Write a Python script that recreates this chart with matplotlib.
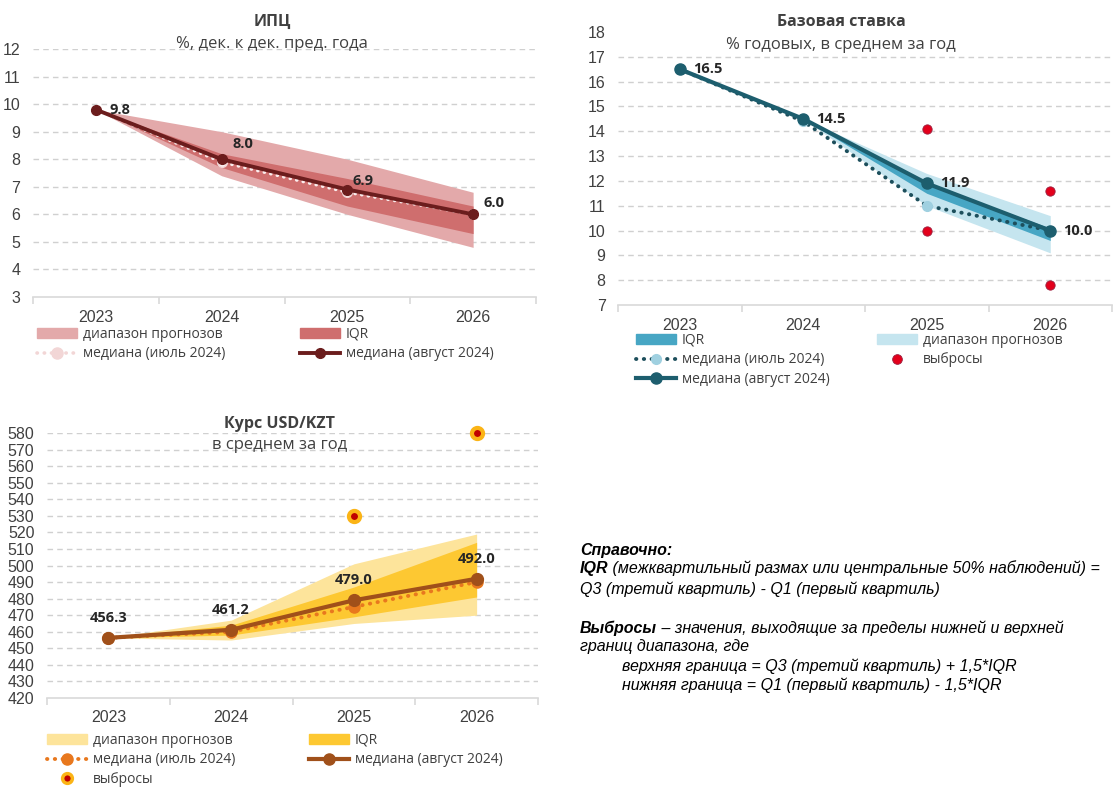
import matplotlib
matplotlib.use("Agg")
import matplotlib.pyplot as plt
from matplotlib.lines import Line2D
from matplotlib.patches import Patch

W, H = 1120, 799

years = ["2023", "2024", "2025", "2026"]

# ИПЦ
cpi_med_aug = [9.8, 8.0, 6.9, 6.0]
cpi_med_jul = [9.8, 7.9, 6.8, 6.0]
cpi_rng_lo = [9.8, 7.4, 6.0, 4.8]
cpi_rng_hi = [9.8, 9.0, 8.0, 6.8]
cpi_iqr_lo = [9.8, 7.7, 6.3, 5.3]
cpi_iqr_hi = [9.8, 8.2, 7.3, 6.3]

# Базовая ставка
rate_med_aug = [16.5, 14.5, 11.9, 10.0]
rate_med_jul = [16.5, 14.4, 11.0, 10.0]
rate_rng_lo = [16.5, 14.5, 11.0, 9.1]
rate_rng_hi = [16.5, 14.5, 12.3, 10.6]
rate_iqr_lo = [16.5, 14.5, 11.5, 9.6]
rate_iqr_hi = [16.5, 14.5, 11.9, 10.1]
rate_out_year = ["2025", "2025", "2026", "2026"]
rate_out_val = [14.1, 10.0, 11.6, 7.8]

# Курс USD/KZT
usd_med_aug = [456.3, 461.2, 479.0, 492.0]
usd_med_jul = [456.3, 460.0, 475.0, 490.0]
usd_rng_lo = [456.3, 455.0, 465.0, 470.0]
usd_rng_hi = [456.3, 467.0, 501.0, 519.0]
usd_iqr_lo = [456.3, 458.0, 469.0, 481.0]
usd_iqr_hi = [456.3, 464.0, 487.0, 514.0]
usd_out_year = ["2025", "2026"]
usd_out_val = [530.0, 580.0]

TICK_FONT = ["Liberation Sans", "DejaVu Sans"]
HUM_FONT = ["Open Sans", "DejaVu Sans"]
GREY = "#404040"
DOTS = (0, (0.1, 1.9))


def px_axes(fig, left, right, top, bottom):
    return fig.add_axes([left / W, 1 - bottom / H, (right - left) / W, (bottom - top) / H])


def style_axes(ax, ylim, yticks, grid_ticks):
    x = list(range(len(years)))
    ax.set_xlim(-0.5, len(years) - 0.5)
    ax.set_ylim(*ylim)
    for s in ["top", "right", "left"]:
        ax.spines[s].set_visible(False)
    ax.spines["bottom"].set_color("#d9d9d9")
    ax.spines["bottom"].set_linewidth(1.2)
    for g in grid_ticks:
        ax.axhline(g, color="#d0d0d0", lw=1, ls=(0, (4, 3)), zorder=0)
    ax.set_xticks(x)
    ax.set_xticklabels(years, fontfamily=TICK_FONT, fontsize=11.5, color=GREY)
    ax.set_xticks([i - 0.5 for i in range(len(years) + 1)], minor=True)
    ax.tick_params(axis="x", which="major", length=0, pad=9)
    ax.tick_params(axis="x", which="minor", length=5, color="#d9d9d9", width=1.2)
    ax.set_yticks(yticks)
    ax.set_yticklabels([str(t) for t in yticks], fontfamily=TICK_FONT, fontsize=11.5, color=GREY)
    ax.tick_params(axis="y", length=0, pad=9)
    return x


def data_labels(ax, x, vals, dx, dy, fmt):
    for xi, v in zip(x, vals):
        ax.annotate(fmt.format(v), (xi, v), xytext=(dx, dy), textcoords="offset points",
                    ha="center", va="center", fontsize=10.5, fontweight="bold",
                    color="#262626", family=HUM_FONT, zorder=10)


def titles(fig, cx, y1, y2, title, sub):
    fig.text(cx / W, 1 - y1 / H, title, ha="center", va="center", fontsize=11.5,
             fontweight="bold", color=GREY, family=HUM_FONT)
    fig.text(cx / W, 1 - y2 / H, sub, ha="center", va="center", fontsize=12,
             color=GREY, family=HUM_FONT)


def legend(fig, handles, labels, x, y):
    leg = fig.legend(handles, labels, loc="upper left", bbox_to_anchor=(x / W, 1 - y / H),
                     frameon=False, handlelength=2.9, handletextpad=0.4, labelspacing=0.32,
                     borderpad=0, borderaxespad=0, numpoints=1,
                     prop={"family": HUM_FONT, "size": 10})
    for t in leg.get_texts():
        t.set_color(GREY)
    return leg


fig = plt.figure(figsize=(W / 100, H / 100), dpi=100)

# ---------------- ИПЦ ----------------
c_rng, c_iqr, c_aug, c_jul = "#e3a9aa", "#cf6e6e", "#6b1d1d", "#fbeeee"
ax1 = px_axes(fig, 33, 536, 49, 297)
x = style_axes(ax1, (3, 12), list(range(3, 13)), list(range(4, 13)))
ax1.fill_between(x, cpi_rng_lo, cpi_rng_hi, color=c_rng, lw=0, zorder=1)
ax1.fill_between(x, cpi_iqr_lo, cpi_iqr_hi, color=c_iqr, lw=0, zorder=2)
ax1.plot(x, cpi_med_jul, ls=DOTS, dash_capstyle="round", lw=2.4, color=c_jul, marker="o",
         ms=7, mfc=c_jul, mec="#f2d6d6", zorder=3)
ax1.plot(x, cpi_med_aug, lw=2.8, color=c_aug, marker="o", ms=7, zorder=4)
data_labels(ax1, x[0:1], cpi_med_aug[0:1], 17, 0, "{:.1f}")
data_labels(ax1, x[1:2], cpi_med_aug[1:2], 15, 11, "{:.1f}")
data_labels(ax1, x[2:3], cpi_med_aug[2:3], 11, 6, "{:.1f}")
data_labels(ax1, x[3:], cpi_med_aug[3:], 15, 8, "{:.1f}")
titles(fig, 272, 22, 44, "ИПЦ", "%, дек. к дек. пред. года")
legend(fig, [Patch(color=c_rng),
             Line2D([], [], ls=DOTS, dash_capstyle="round", lw=2.6, color="#f2d6d6",
                    marker="o", ms=8, mfc="#f2d6d6", mec="#f2d6d6")],
       ["диапазон прогнозов", "медиана (июль 2024)"], 37, 327)
legend(fig, [Patch(color=c_iqr), Line2D([], [], lw=2.8, color=c_aug, marker="o", ms=7)],
       ["IQR", "медиана (август 2024)"], 300, 327)

# ---------------- Базовая ставка ----------------
b_rng, b_iqr, b_aug, b_jul_m, b_out = "#c5e5ef", "#47a6c4", "#1d5e6e", "#9fd0e0", "#e3001b"
ax2 = px_axes(fig, 618, 1112, 32, 305)
x = style_axes(ax2, (7, 18), list(range(7, 19)), list(range(8, 18)))
ax2.fill_between(x, rate_rng_lo, rate_rng_hi, color=b_rng, lw=0, zorder=1)
ax2.fill_between(x, rate_iqr_lo, rate_iqr_hi, color=b_iqr, lw=0, zorder=2)
ax2.plot(x, rate_med_jul, ls=DOTS, dash_capstyle="round", lw=2.8, color="#1d4f5c",
         marker="o", ms=7, mfc=b_jul_m, mec=b_jul_m, zorder=3)
ax2.plot(x, rate_med_aug, lw=3, color=b_aug, marker="o", ms=8, zorder=4)
ax2.scatter([years.index(y) for y in rate_out_year], rate_out_val, s=45, color=b_out,
            edgecolor="#9a2040", lw=0.6, zorder=5)
data_labels(ax2, x, rate_med_aug, 20, 0, "{:.1f}")
titles(fig, 841, 22, 45, "Базовая ставка", "% годовых, в среднем за год")
legend(fig, [Patch(color=b_iqr),
             Line2D([], [], ls=DOTS, dash_capstyle="round", lw=2.8, color="#1d4f5c",
                    marker="o", ms=7, mfc=b_jul_m, mec=b_jul_m),
             Line2D([], [], lw=3, color=b_aug, marker="o", ms=8)],
       ["IQR", "медиана (июль 2024)", "медиана (август 2024)"], 636, 333)
legend(fig, [Patch(color=b_rng),
             Line2D([], [], ls="none", marker="o", ms=7, mfc=b_out, mec="#9a2040", mew=0.6)],
       ["диапазон прогнозов", "выбросы"], 877, 333)

# ---------------- Курс USD/KZT ----------------
u_rng, u_iqr, u_aug, u_jul = "#fde49b", "#fdc832", "#a0501a", "#e8781e"
ax3 = px_axes(fig, 47, 538, 433, 698)
x = style_axes(ax3, (420, 580), list(range(420, 590, 10)), list(range(430, 590, 10)))
ax3.fill_between(x, usd_rng_lo, usd_rng_hi, color=u_rng, lw=0, zorder=1)
ax3.fill_between(x, usd_iqr_lo, usd_iqr_hi, color=u_iqr, lw=0, zorder=2)
ax3.plot(x, usd_med_jul, ls=DOTS, dash_capstyle="round", lw=2.8, color=u_jul, marker="o",
         ms=8, mfc=u_jul, mec=u_jul, zorder=3)
ax3.plot(x, usd_med_aug, lw=3, color=u_aug, marker="o", ms=8.5, zorder=4)
ax3.plot([years.index(y) for y in usd_out_year], usd_out_val, ls="none", marker="o", ms=8,
         mfc="#c00000", mec="#fbb416", mew=3, zorder=5, clip_on=False)
data_labels(ax3, x, usd_med_aug, 0, 14.5, "{:.1f}")
titles(fig, 280, 424, 445, "Курс USD/KZT", "в среднем за год")
legend(fig, [Patch(color=u_rng),
             Line2D([], [], ls=DOTS, dash_capstyle="round", lw=2.8, color=u_jul,
                    marker="o", ms=8, mfc=u_jul, mec=u_jul),
             Line2D([], [], ls="none", marker="o", ms=7, mfc="#c00000", mec="#fbb416", mew=2.5)],
       ["диапазон прогнозов", "медиана (июль 2024)", "выбросы"], 47, 733)
legend(fig, [Patch(color=u_iqr), Line2D([], [], lw=3, color=u_aug, marker="o", ms=8)],
       ["IQR", "медиана (август 2024)"], 309, 733)

# ---------------- Справочно ----------------
note = fig.add_axes([0, 0, 1, 1])
note.axis("off")
note.set_xlim(0, W)
note.set_ylim(H, 0)
nf = dict(family=TICK_FONT, fontsize=11.5, style="italic", color="black", va="center")


def line_parts(x0, y, parts):
    prev = None
    for txt, bold in parts:
        kw = dict(nf)
        if bold:
            kw["fontweight"] = "bold"
        if prev is None:
            prev = note.text(x0, y, txt, **kw)
        else:
            kw["va"] = "bottom"
            prev = note.annotate(txt, xy=(1, 0), xycoords=prev, **kw)


line_parts(580, 550, [("Справочно:", True)])
line_parts(580, 569, [("IQR", True), (" (межквартильный размах или центральные 50% наблюдений) =", False)])
line_parts(580, 589, [("Q3 (третий квартиль) - Q1 (первый квартиль)", False)])
line_parts(580, 628, [("Выбросы", True), (" – значения, выходящие за пределы нижней и верхней", False)])
line_parts(580, 647, [("границ диапазона, где", False)])
line_parts(622, 666, [("верхняя граница = Q3 (третий квартиль) + 1,5*IQR", False)])
line_parts(622, 685, [("нижняя граница = Q1 (первый квартиль) - 1,5*IQR", False)])

fig.savefig("out.png", dpi=100)
